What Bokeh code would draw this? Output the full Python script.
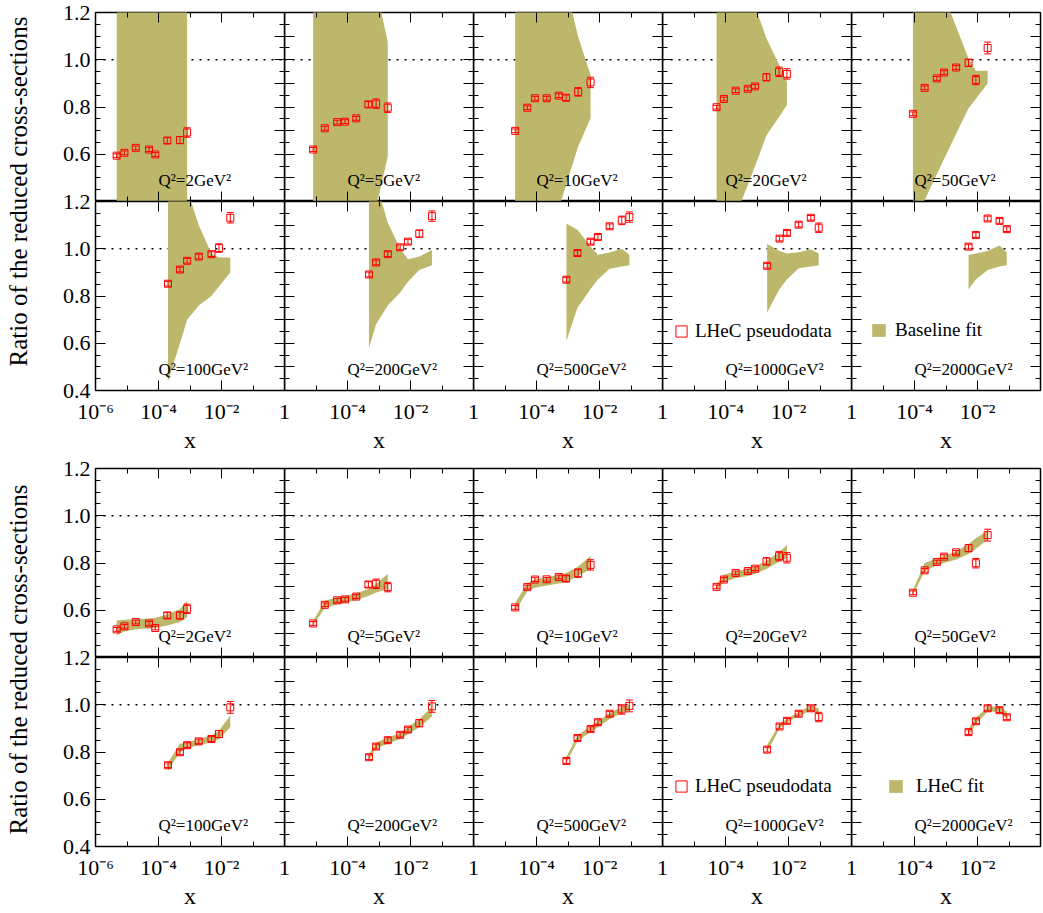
import json
from math import pi
from bokeh.plotting import figure
from bokeh.layouts import row, column
from bokeh.models import (ColumnDataSource, Range1d, FixedTicker, LogAxis, LinearAxis,
                          CustomJSTickFormatter, PrintfTickFormatter, Whisker, TeeHead,
                          Span, Label, Legend, LegendItem, Grid)
from bokeh.embed import file_html
from bokeh.resources import INLINE

# ---------------------------------------------------------------- data
Q2_VALUES = [2, 5, 10, 20, 50, 100, 200, 500, 1000, 2000]

X_POINTS = [
    [4.7e-6, 8.3e-6, 1.9e-5, 5.0e-5, 7.9e-5, 1.9e-4, 4.8e-4, 8.1e-4],
    [8.1e-6, 1.9e-5, 4.7e-5, 8.3e-5, 1.9e-4, 4.6e-4, 8.1e-4, 1.9e-3],
    [2.1e-5, 5.1e-5, 8.9e-5, 2.1e-4, 5.1e-4, 8.7e-4, 2.1e-3, 5.2e-3],
    [5.2e-5, 8.9e-5, 2.1e-4, 5.1e-4, 8.7e-4, 2.0e-3, 5.0e-3, 8.9e-3],
    [8.9e-5, 2.1e-4, 5.1e-4, 8.7e-4, 2.1e-3, 5.2e-3, 8.9e-3, 2.1e-2],
    [2.0e-4, 4.8e-4, 8.1e-4, 1.9e-3, 4.8e-3, 8.3e-3, 1.9e-2],
    [4.8e-4, 8.1e-4, 1.9e-3, 4.7e-3, 8.3e-3, 1.9e-2, 4.8e-2],
    [8.9e-4, 2.0e-3, 5.2e-3, 8.9e-3, 2.1e-2, 5.1e-2, 8.9e-2],
    [2.1e-3, 5.2e-3, 8.9e-3, 2.1e-2, 5.1e-2, 9.1e-2],
    [5.2e-3, 8.9e-3, 2.1e-2, 5.0e-2, 8.5e-2],
]

# upper block: pseudodata / baseline fit
BASE_RATIO = [
    [0.594, 0.606, 0.627, 0.620, 0.599, 0.658, 0.660, 0.692],
    [0.620, 0.710, 0.736, 0.738, 0.752, 0.811, 0.814, 0.797],
    [0.699, 0.797, 0.837, 0.837, 0.848, 0.839, 0.864, 0.904],
    [0.799, 0.834, 0.869, 0.877, 0.887, 0.926, 0.949, 0.940],
    [0.771, 0.881, 0.921, 0.946, 0.967, 0.987, 0.914, 1.050],
    [0.852, 0.912, 0.949, 0.967, 0.977, 1.003, 1.131],
    [0.891, 0.942, 0.977, 1.006, 1.030, 1.064, 1.138],
    [0.869, 0.982, 1.030, 1.050, 1.095, 1.120, 1.134],
    [0.928, 1.043, 1.067, 1.102, 1.131, 1.089],
    [1.009, 1.058, 1.128, 1.118, 1.083],
]
BASE_ERR = [
    [0.008, 0.008, 0.008, 0.008, 0.008, 0.012, 0.015, 0.020],
    [0.008, 0.008, 0.008, 0.008, 0.008, 0.012, 0.020, 0.020],
    [0.008, 0.008, 0.008, 0.008, 0.008, 0.012, 0.018, 0.022],
    [0.008, 0.008, 0.008, 0.008, 0.008, 0.015, 0.020, 0.022],
    [0.008, 0.008, 0.008, 0.008, 0.008, 0.015, 0.020, 0.025],
    [0.010, 0.010, 0.010, 0.010, 0.010, 0.018, 0.022],
    [0.010, 0.010, 0.010, 0.010, 0.010, 0.015, 0.022],
    [0.010, 0.010, 0.010, 0.010, 0.010, 0.018, 0.022],
    [0.010, 0.010, 0.010, 0.010, 0.010, 0.020],
    [0.010, 0.010, 0.010, 0.010, 0.010],
]
BASE_LO = [
    [0.20, 0.20, 0.20, 0.20, 0.20, 0.20, 0.20, 0.20],
    [0.10, 0.10, 0.10, 0.10, 0.10, 0.20, 0.375, 0.591],
    [0.10, 0.10, 0.10, 0.10, 0.37, 0.47, 0.633, 0.752],
    [0.10, 0.20, 0.34, 0.47, 0.55, 0.68, 0.758, 0.808],
    [0.30, 0.406, 0.515, 0.58, 0.687, 0.795, 0.835, 0.899],
    [0.437, 0.60, 0.70, 0.76, 0.80, 0.84, 0.90],
    [0.58, 0.68, 0.76, 0.815, 0.86, 0.91, 0.93],
    [0.61, 0.75, 0.83, 0.87, 0.915, 0.925, 0.93],
    [0.73, 0.83, 0.87, 0.917, 0.925, 0.93],
    [0.829, 0.87, 0.91, 0.925, 0.93],
]
BASE_HI = [
    [1.60, 1.60, 1.60, 1.60, 1.60, 1.60, 1.60, 1.60],
    [1.60, 1.60, 1.60, 1.60, 1.60, 1.50, 1.30, 1.075],
    [1.60, 1.60, 1.60, 1.60, 1.50, 1.31, 1.097, 0.935],
    [1.60, 1.60, 1.60, 1.40, 1.226, 1.09, 0.98, 0.907],
    [1.60, 1.60, 1.45, 1.27, 1.14, 1.005, 0.953, 0.953],
    [1.60, 1.40, 1.25, 1.10, 0.98, 0.963, 0.963],
    [1.45, 1.28, 1.11, 1.00, 0.956, 0.967, 0.995],
    [1.106, 1.08, 1.01, 0.975, 0.984, 1.00, 0.975],
    [1.02, 0.99, 0.98, 0.985, 0.998, 0.98],
    [0.974, 0.98, 0.99, 1.014, 0.984],
]

# lower block: pseudodata / LHeC fit
LHEC_RATIO = [
    [0.519, 0.532, 0.550, 0.544, 0.525, 0.578, 0.578, 0.606],
    [0.544, 0.623, 0.642, 0.646, 0.658, 0.709, 0.712, 0.698],
    [0.612, 0.698, 0.730, 0.731, 0.741, 0.734, 0.757, 0.792],
    [0.699, 0.730, 0.758, 0.766, 0.776, 0.807, 0.829, 0.822],
    [0.674, 0.769, 0.804, 0.827, 0.845, 0.863, 0.799, 0.918],
    [0.744, 0.799, 0.829, 0.845, 0.855, 0.876, 0.989],
    [0.778, 0.823, 0.850, 0.873, 0.895, 0.922, 0.993],
    [0.762, 0.859, 0.897, 0.926, 0.962, 0.980, 0.995],
    [0.810, 0.908, 0.932, 0.962, 0.985, 0.948],
    [0.884, 0.930, 0.985, 0.977, 0.947],
]
LHEC_ERR = [
    [0.008, 0.008, 0.008, 0.008, 0.008, 0.012, 0.015, 0.020],
    [0.008, 0.008, 0.008, 0.008, 0.008, 0.012, 0.020, 0.020],
    [0.008, 0.008, 0.008, 0.008, 0.008, 0.012, 0.018, 0.022],
    [0.008, 0.008, 0.008, 0.008, 0.008, 0.015, 0.020, 0.022],
    [0.008, 0.008, 0.008, 0.008, 0.008, 0.015, 0.020, 0.025],
    [0.010, 0.010, 0.010, 0.010, 0.010, 0.015, 0.025],
    [0.010, 0.010, 0.010, 0.010, 0.010, 0.015, 0.025],
    [0.010, 0.010, 0.010, 0.010, 0.010, 0.020, 0.025],
    [0.010, 0.010, 0.010, 0.010, 0.010, 0.020],
    [0.010, 0.010, 0.010, 0.010, 0.010],
]
LHEC_LO = [
    [0.495, 0.51, 0.52, 0.523, 0.525, 0.535, 0.55, 0.57],
    [0.535, 0.61, 0.625, 0.632, 0.643, 0.66, 0.675, 0.69],
    [0.595, 0.68, 0.695, 0.705, 0.713, 0.72, 0.745, 0.775],
    [0.685, 0.72, 0.735, 0.745, 0.753, 0.775, 0.805, 0.82],
    [0.665, 0.765, 0.79, 0.80, 0.815, 0.838, 0.86, 0.90],
    [0.72, 0.80, 0.815, 0.83, 0.84, 0.855, 0.905],
    [0.765, 0.815, 0.835, 0.855, 0.875, 0.905, 0.95],
    [0.755, 0.845, 0.885, 0.905, 0.94, 0.965, 0.975],
    [0.80, 0.90, 0.925, 0.952, 0.975, 0.96],
    [0.87, 0.92, 0.97, 0.97, 0.94],
]
LHEC_HI = [
    [0.557, 0.56, 0.562, 0.565, 0.568, 0.582, 0.605, 0.640],
    [0.555, 0.64, 0.655, 0.66, 0.672, 0.69, 0.71, 0.755],
    [0.63, 0.715, 0.73, 0.74, 0.75, 0.758, 0.785, 0.83],
    [0.71, 0.75, 0.765, 0.775, 0.785, 0.81, 0.845, 0.876],
    [0.685, 0.80, 0.82, 0.83, 0.85, 0.88, 0.905, 0.937],
    [0.755, 0.835, 0.84, 0.855, 0.87, 0.89, 0.955],
    [0.79, 0.84, 0.86, 0.88, 0.905, 0.94, 0.99],
    [0.78, 0.87, 0.91, 0.93, 0.965, 0.99, 1.00],
    [0.83, 0.92, 0.94, 0.97, 0.995, 0.985],
    [0.90, 0.945, 0.99, 0.995, 0.97],
]

X_TICKS = [1e-6, 1e-4, 1e-2, 1.0]
X_TICK_LABELS = ["10\u207b\u2076", "10\u207b\u2074", "10\u207b\u00b2", "1"]
X_MINOR_TICKS = [1e-5, 1e-3, 1e-1]
Y_LABEL_TICKS = [0.4, 0.6, 0.8, 1.0, 1.2]
Y_FINE_TICKS = [0.5, 0.6, 0.7, 0.8, 0.9, 1.0, 1.1]
Y_MINOR_TICKS = [0.45, 0.5, 0.55, 0.65, 0.7, 0.75, 0.85, 0.9, 0.95, 1.05, 1.1, 1.15]
Y_FINE_MINOR = [0.45, 0.55, 0.65, 0.75, 0.85, 0.95, 1.05, 1.15]

Y_TITLE = "Ratio of the reduced cross-sections"
LEGEND_DATA = "LHeC pseudodata"
LEGEND_FIT = ["Baseline fit", "LHeC fit"]

# ---------------------------------------------------------------- style
SERIF = "Liberation Serif"
RED = "#ff0000"
OLIVE = "#bdb76b"
TITLE_W = 32
FRAME_W, FRAME_H = 189, 189
TOP_BORDER = [12, 13]
BOTTOM_BORDER = [65, 65]
OVERLAP = 14


def no_grid(p):
    p.center = [c for c in p.center if not isinstance(c, Grid)]


def blank_fmt():
    return CustomJSTickFormatter(code="return '';")


def label_fmt(labels):
    return CustomJSTickFormatter(code="const L = %s; return L[index];" % json.dumps(labels))


def style_axis(ax):
    ax.axis_line_color = None
    ax.major_tick_line_color = "black"
    ax.minor_tick_line_color = "black"
    ax.major_tick_line_width = 1
    ax.minor_tick_line_width = 1
    ax.major_tick_in = 10
    ax.major_tick_out = 0
    ax.minor_tick_in = 5
    ax.minor_tick_out = 0
    ax.major_label_text_font = SERIF
    ax.major_label_text_font_size = "22px"
    ax.major_label_text_color = "black"
    ax.axis_label_text_font = SERIF
    ax.axis_label_text_font_style = "normal"
    ax.axis_label_text_font_size = "24px"
    ax.axis_label_text_color = "black"


def make_panel(block, r, c, store):
    k = r * 5 + c
    p = figure(x_axis_type="log", x_range=Range1d(1e-6, 1.0), y_range=Range1d(0.4, 1.2),
               frame_width=FRAME_W, frame_height=FRAME_H,
               x_axis_location=None, y_axis_location=None, title=None,
               toolbar_location=None, output_backend="svg",
               min_border_left=(95 - TITLE_W) if c == 0 else 0,
               min_border_right=8 if c < 4 else 2,
               min_border_top=TOP_BORDER[block] if r == 0 else OVERLAP,
               min_border_bottom=0 if r == 0 else BOTTOM_BORDER[block],
               margin=(0, 0, 0, 0 if c == 0 else -8),
               background_fill_color=None, border_fill_color=None,
               outline_line_color="black", outline_line_width=1.5)
    no_grid(p)

    # x axes
    if r == 1:
        below = LogAxis(ticker=FixedTicker(ticks=X_TICKS, minor_ticks=X_MINOR_TICKS))
        style_axis(below)
        labs = list(X_TICK_LABELS)
        if c > 0:
            labs[0] = ""
        if c == 4:
            labs[-1] = ""
        below.formatter = label_fmt(labs)
        below.major_label_standoff = 8
        below.axis_label = "x"
        below.axis_label_standoff = 0
    else:
        below = LogAxis(fixed_location=0.4,
                        ticker=FixedTicker(ticks=X_TICKS, minor_ticks=X_MINOR_TICKS))
        style_axis(below)
        below.formatter = blank_fmt()
    p.add_layout(below, "below")

    above = LogAxis(fixed_location=1.2,
                    ticker=FixedTicker(ticks=X_TICKS, minor_ticks=X_MINOR_TICKS))
    style_axis(above)
    above.formatter = blank_fmt()
    p.add_layout(above, "above")

    # y axes
    if c == 0:
        ticks = Y_LABEL_TICKS if r == 1 else Y_LABEL_TICKS[1:]
        left = LinearAxis(ticker=FixedTicker(ticks=ticks, minor_ticks=Y_MINOR_TICKS))
        style_axis(left)
        left.formatter = PrintfTickFormatter(format="%.1f")
        left.major_label_standoff = 5
    else:
        left = LinearAxis(fixed_location=1e-6,
                          ticker=FixedTicker(ticks=Y_FINE_TICKS, minor_ticks=Y_FINE_MINOR))
        style_axis(left)
        left.formatter = blank_fmt()
    p.add_layout(left, "left")

    right = LinearAxis(fixed_location=1.0,
                       ticker=FixedTicker(ticks=Y_FINE_TICKS, minor_ticks=Y_FINE_MINOR))
    style_axis(right)
    right.formatter = blank_fmt()
    p.add_layout(right, "right")

    # reference line at 1
    p.add_layout(Span(location=1.0, dimension="width", line_color="black",
                      line_width=1.5, line_dash="2 6", level="underlay"))

    ratio = BASE_RATIO if block == 0 else LHEC_RATIO
    err = BASE_ERR if block == 0 else LHEC_ERR
    lo = BASE_LO if block == 0 else LHEC_LO
    hi = BASE_HI if block == 0 else LHEC_HI

    xs = X_POINTS[k]
    band = p.varea(x=xs, y1=lo[k], y2=hi[k], fill_color=OLIVE, fill_alpha=1.0)

    src = ColumnDataSource(dict(
        x=xs, y=ratio[k],
        lower=[v - e for v, e in zip(ratio[k], err[k])],
        upper=[v + e for v, e in zip(ratio[k], err[k])]))
    pts = p.scatter("x", "y", source=src, marker="square", size=7,
                    fill_color=None, line_color=RED, line_width=1)
    p.add_layout(Whisker(source=src, base="x", lower="lower", upper="upper",
                         dimension="height", line_color=RED, line_width=1,
                         level="annotation",
                         upper_head=TeeHead(size=7, line_color=RED, line_width=1),
                         lower_head=TeeHead(size=7, line_color=RED, line_width=1)))

    p.add_layout(Label(x=1e-4, y=0.488, text="Q\u00b2=%dGeV\u00b2" % Q2_VALUES[k],
                       text_font=SERIF, text_font_size="17px", text_color="black",
                       text_align="left", text_baseline="alphabetic"))
    store[k] = (p, pts, band)
    return p


def make_block(block):
    store = {}
    figs = [[make_panel(block, r, c, store) for c in range(5)] for r in range(2)]

    p8, pts8, _ = store[8]
    leg1 = Legend(items=[LegendItem(label=LEGEND_DATA, renderers=[pts8])],
                  location=(5, 45 if block == 0 else 46),
                  glyph_width=28, glyph_height=28, label_height=28,
                  label_standoff=0, padding=0, margin=0, spacing=0,
                  border_line_color=None, background_fill_alpha=0,
                  label_text_font=SERIF, label_text_font_size="19px",
                  label_text_color="black")
    p8.add_layout(leg1)

    p9, _, band9 = store[9]
    leg2 = Legend(items=[LegendItem(label=LEGEND_FIT[block], renderers=[band9])],
                  location=((19, 49) if block == 0 else (36, 49)),
                  glyph_width=17, glyph_height=16, label_height=16,
                  label_standoff=8 if block == 0 else 12, padding=0, margin=0, spacing=0,
                  border_line_color=None, background_fill_alpha=0,
                  label_text_font=SERIF, label_text_font_size="19px",
                  label_text_color="black")
    p9.add_layout(leg2)

    top = row(*figs[0])
    bottom = row(*figs[1], margin=(-OVERLAP, 0, 0, 0))
    return column(top, bottom)


def make_title(height, yc):
    t = figure(frame_width=TITLE_W, frame_height=height, x_range=Range1d(0, TITLE_W),
               y_range=Range1d(0, height), min_border=0,
               x_axis_location=None, y_axis_location=None, title=None,
               toolbar_location=None, output_backend="svg",
               outline_line_color=None, border_fill_color=None,
               background_fill_color=None)
    no_grid(t)
    t.add_layout(Label(x=18, y=yc, text=Y_TITLE, angle=pi / 2,
                       text_align="center", text_baseline="middle",
                       text_font=SERIF, text_font_size="25px", text_color="black"))
    return t


h1 = TOP_BORDER[0] + 2 * FRAME_H + BOTTOM_BORDER[0]
h2 = TOP_BORDER[1] + 2 * FRAME_H + BOTTOM_BORDER[1]
layout = column(row(make_title(h1, h1 - 191), make_block(0)),
                row(make_title(h2, h2 - (659 - h1)), make_block(1)))

open("out.html", "w").write(file_html(layout, INLINE))
